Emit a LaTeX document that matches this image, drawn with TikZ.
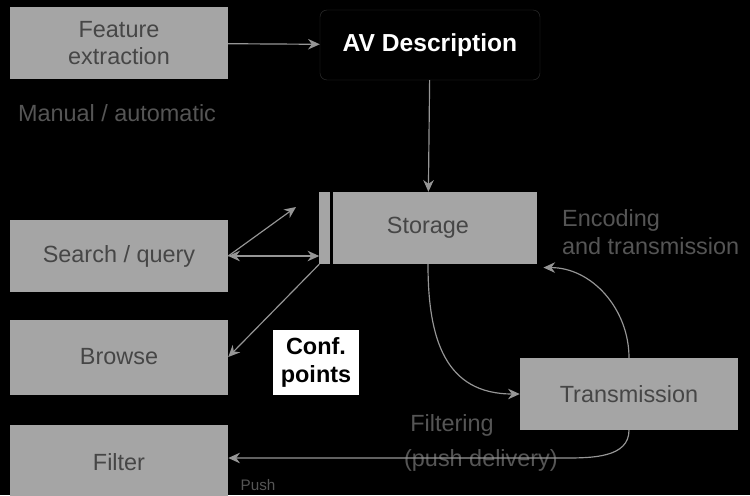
\documentclass[tikz,border=0pt]{standalone}
\usepackage{fontspec}
\setmainfont{Liberation Sans}
\usepackage{xcolor}
\usepackage{tikz}
\usetikzlibrary{arrows.meta,positioning}
\definecolor{boxgray}{RGB}{165,165,165}
\definecolor{inkgray}{RGB}{70,70,70}
\definecolor{linegray}{RGB}{150,150,150}
\definecolor{faintgray}{RGB}{85,85,85}

\begin{document}
\begin{tikzpicture}[x=0.03cm, y=-0.03cm,
    stage/.style={fill=boxgray, text=inkgray, minimum width=6.54cm, minimum height=2.16cm,
      align=center, inner sep=0pt, font=\fontsize{20}{23}\selectfont},
    flow/.style={draw=linegray, line width=1pt, >={Stealth[length=10pt,width=9pt]}, ->},
    note/.style={text=faintgray, align=left, font=\fontsize{20}{24}\selectfont}]
        \fill[black] (0,0) rectangle (750,495);
        \useasboundingbox (0,0) rectangle (750,495);
        \node[stage] (feat) at (119,43) {Feature\\extraction};
        \node[draw=inkgray!70!black, rounded corners=6pt, fill=black, text=white, minimum width=6.6cm,
          minimum height=2.1cm, font=\fontsize{21}{25}\selectfont\bfseries] (avdesc) at (430,45) {AV Description};
        \node[stage, minimum width=6.51cm] (storage) at (428,228) {Storage};
        \node[stage] (search) at (119,256) {Search / query};
        \node[stage, minimum height=2.25cm] (browse) at (119,357) {Browse};
        \node[stage, minimum height=2.22cm] (filter) at (119,462) {Filter};
        \node[stage] (trans) at (629,394) {Transmission};
        \node[fill=white, text=black, align=center, minimum width=2.6cm, minimum height=1.95cm,
          inner sep=0pt, font=\fontsize{20}{24}\selectfont\bfseries] (conf) at (316,362) {Conf.\\points};
        \draw[black, line width=2.5pt] ([xshift=0.36cm]storage.north west) -- ([xshift=0.36cm]storage.south west);
        \node[note] (manual) at (117,113) {Manual / automatic};
        \node[note, anchor=west] (coding) at (558,232) {Encoding\\and transmission};
        \node[note] (filtering) at (452,425) {Filtering};
        \node[note, anchor=west] (delivery) at (400,460) {(push delivery)};
        \node[note, font=\fontsize{13}{15}\selectfont] (push) at (258,485) {Push};
        \coordinate (qtop) at (296,207);
        \coordinate (bend) at (565,458);
        \draw[flow] (feat) -- (avdesc);
        \draw[flow] (avdesc) -- (storage);
        \draw[flow, <->] (search.east) -- (search.east -| storage.west);
        \draw[flow] (search.east) -- (qtop);
        \draw[flow] (storage.south west) -- (browse.east);
        \draw[flow] (storage.south) to[out=-90, in=180, looseness=1.2] (trans.west);
        \draw[flow] (trans.north) to[out=90, in=0] ([xshift=0.2cm,yshift=-0.1cm]storage.south east);
        \draw[flow] (trans.south) to[out=-90, in=0] (bend) -- (bend -| filter.east);
    \end{tikzpicture}
\end{document}
